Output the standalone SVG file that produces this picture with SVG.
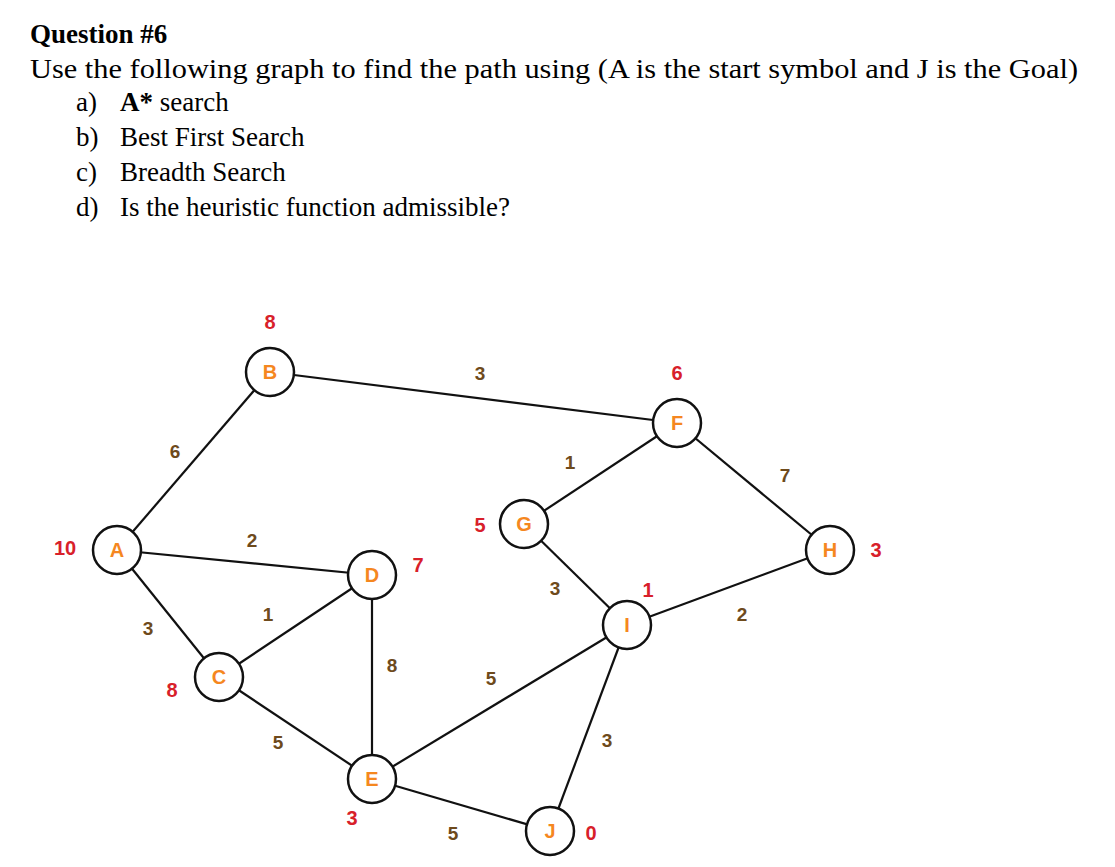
<svg xmlns="http://www.w3.org/2000/svg" width="1115" height="867" viewBox="0 0 1115 867">
<style>
.t{font-family:"Liberation Serif",serif;font-size:27px;fill:#000}
.n circle{fill:#fff;stroke:#111;stroke-width:2.5}
.n text{font-family:"Liberation Sans",Arial,sans-serif;font-weight:bold;font-size:20px;fill:#f5871f;text-anchor:middle}
.w{font-family:"Liberation Sans",Arial,sans-serif;font-weight:bold;font-size:19px;fill:#6e4a1c;text-anchor:middle}
.h{font-family:"Liberation Sans",Arial,sans-serif;font-weight:bold;font-size:20px;fill:#d8202a;text-anchor:middle}
#edges line{stroke:#111;stroke-width:2.2}
</style>
<rect width="1115" height="867" fill="#fff"/>
<text class="t" x="30" y="43" font-weight="bold">Question #6</text>
<text class="t" x="30" y="78" textLength="1048" lengthAdjust="spacingAndGlyphs">Use the following graph to find the path using (A is the start symbol and J is the Goal)</text>
<text class="t" x="76" y="111">a)</text><text class="t" x="120" y="111"><tspan font-weight="bold">A*</tspan> search</text>
<text class="t" x="76" y="146">b)</text><text class="t" x="120" y="146">Best First Search</text>
<text class="t" x="76" y="181">c)</text><text class="t" x="120" y="181">Breadth Search</text>
<text class="t" x="76" y="216">d)</text><text class="t" x="120" y="216">Is the heuristic function admissible?</text>
<g id="edges">
<line x1="117" y1="550" x2="270" y2="372"/>
<line x1="117" y1="550" x2="372" y2="575"/>
<line x1="117" y1="550" x2="219" y2="677"/>
<line x1="270" y1="372" x2="677" y2="423"/>
<line x1="219" y1="677" x2="372" y2="575"/>
<line x1="219" y1="677" x2="372" y2="779"/>
<line x1="372" y1="575" x2="372" y2="779"/>
<line x1="372" y1="779" x2="627" y2="625"/>
<line x1="372" y1="779" x2="550" y2="831"/>
<line x1="677" y1="423" x2="524" y2="524"/>
<line x1="677" y1="423" x2="830" y2="550"/>
<line x1="524" y1="524" x2="627" y2="625"/>
<line x1="627" y1="625" x2="830" y2="550"/>
<line x1="627" y1="625" x2="550" y2="831"/>
</g>
<g id="A" class="n"><circle cx="117" cy="550" r="24"/><text x="117" y="557">A</text></g>
<g id="B" class="n"><circle cx="270" cy="372" r="24"/><text x="270" y="379">B</text></g>
<g id="C" class="n"><circle cx="219" cy="677" r="24"/><text x="219" y="684">C</text></g>
<g id="D" class="n"><circle cx="372" cy="575" r="24"/><text x="372" y="582">D</text></g>
<g id="E" class="n"><circle cx="372" cy="779" r="24"/><text x="372" y="786">E</text></g>
<g id="F" class="n"><circle cx="677" cy="423" r="24"/><text x="677" y="430">F</text></g>
<g id="G" class="n"><circle cx="524" cy="524" r="24"/><text x="524" y="531">G</text></g>
<g id="H" class="n"><circle cx="830" cy="550" r="24"/><text x="830" y="557">H</text></g>
<g id="I" class="n"><circle cx="627" cy="625" r="24"/><text x="627" y="632">I</text></g>
<g id="J" class="n"><circle cx="550" cy="831" r="24"/><text x="550" y="838">J</text></g>
<g id="weights">
<text class="w" x="175" y="458">6</text>
<text class="w" x="252" y="547">2</text>
<text class="w" x="148" y="635">3</text>
<text class="w" x="480" y="380">3</text>
<text class="w" x="268" y="621">1</text>
<text class="w" x="278" y="749">5</text>
<text class="w" x="392" y="672">8</text>
<text class="w" x="491" y="685">5</text>
<text class="w" x="453" y="840">5</text>
<text class="w" x="570" y="469">1</text>
<text class="w" x="785" y="482">7</text>
<text class="w" x="555" y="595">3</text>
<text class="w" x="742" y="621">2</text>
<text class="w" x="607" y="747">3</text>
</g>
<g id="heuristics">
<text class="h" x="65" y="555">10</text>
<text class="h" x="270" y="329">8</text>
<text class="h" x="172" y="697">8</text>
<text class="h" x="418" y="572">7</text>
<text class="h" x="352" y="825">3</text>
<text class="h" x="677" y="380">6</text>
<text class="h" x="480" y="532">5</text>
<text class="h" x="876" y="557">3</text>
<text class="h" x="648" y="597">1</text>
<text class="h" x="591" y="840" font-size="23">0</text>
</g>
</svg>
